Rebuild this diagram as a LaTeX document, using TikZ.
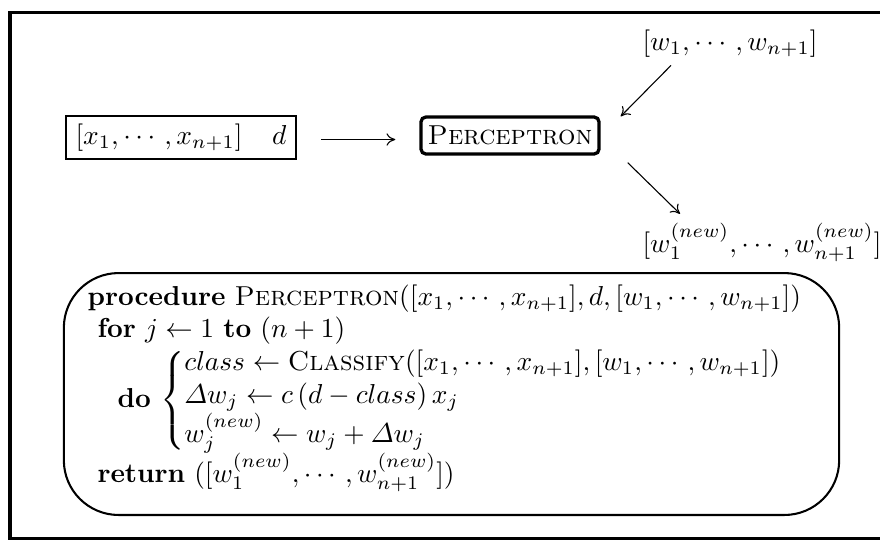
\documentclass[tikz,border=0pt]{standalone}
\usepackage{amsmath}
\usetikzlibrary{calc,arrows.meta}
\begin{document}
\begin{tikzpicture}[x=0.365pt,y=-0.365pt,
  arr/.style={line width=0.4pt,-{To[length=3.2pt,width=4.5pt]}},
  inbox/.style={draw,line width=0.9pt,minimum width=84pt,minimum height=15.7pt,inner sep=0pt},
  percbox/.style={draw,line width=1.2pt,rounded corners=1.8pt,minimum width=65pt,minimum height=13.5pt,inner sep=0pt},
  procbox/.style={draw,line width=0.75pt,rounded corners=20pt,minimum width=283pt,minimum height=88.3pt,inner sep=0pt},
  txt/.style={inner sep=0pt,anchor=base west}]
\useasboundingbox (0,0) rectangle (880,540);
\clip (0,0) rectangle (880,540);
\draw[line width=1.1pt] (10,12) rectangle (900,538);
\node[inbox] (inbox) at (181,137.5) {\makebox[77pt][l]{$[x_1,\cdots,x_{n+1}]$\hfill$d$}};
\node[percbox] (perc) at (510,135.5) {\textsc{Perceptron}};
\node[txt] (wold) at (642,50) {$[w_1,\cdots,w_{n+1}]$};
\node[txt] (wnew) at (642,252) {$[w_1^{(new)},\cdots,w_{n+1}^{(new)}]$};
\draw[arr] (inbox.east) ++(24,2) coordinate (a0) -- ($(perc.west)+(-24,4)$);
\draw[arr] ($(wold.south west)+(29,8)$) -- ($(perc.north east)+(20,1)$);
\draw[arr] ($(perc.south east)+(27,7)$) -- ($(wnew.north west)+(38,-9)$);
\node[procbox] (proc) at (451.5,394) {};
\node[txt] (code) at (87,305) {\begin{tabular}[t]{@{}l@{}}
\textbf{procedure} \textsc{Perceptron}$([x_1,\cdots,x_{n+1}],d,[w_1,\cdots,w_{n+1}])$\\
\hspace*{3.65pt}\textbf{for} $j\leftarrow 1$ \textbf{to} $(n+1)$\\
\hspace*{11pt}\textbf{do} $\left\{\begin{array}{@{}l@{}}
class\leftarrow\textsc{Classify}([x_1,\cdots,x_{n+1}],[w_1,\cdots,w_{n+1}])\\
\varDelta w_j\leftarrow c\,(d-class)\,x_j\\
w_j^{(new)}\leftarrow w_j+\varDelta w_j
\end{array}\right.$\\
\hspace*{3.65pt}\textbf{return} $([w_1^{(new)},\cdots,w_{n+1}^{(new)}])$
\end{tabular}};
\end{tikzpicture}
\end{document}
